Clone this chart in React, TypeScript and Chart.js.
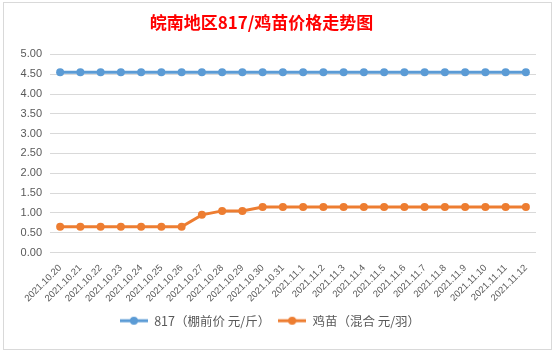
import React, { useEffect, useRef } from "react";
import { Chart, registerables } from "chart.js";

Chart.register(...registerables);

const categories = [
  "2021.10.20", "2021.10.21", "2021.10.22", "2021.10.23", "2021.10.24", "2021.10.25",
  "2021.10.26", "2021.10.27", "2021.10.28", "2021.10.29", "2021.10.30", "2021.10.31",
  "2021.11.1", "2021.11.2", "2021.11.3", "2021.11.4", "2021.11.5", "2021.11.6",
  "2021.11.7", "2021.11.8", "2021.11.9", "2021.11.10", "2021.11.11", "2021.11.12",
];
const price817 = [
  4.55, 4.55, 4.55, 4.55, 4.55, 4.55, 4.55, 4.55, 4.55, 4.55, 4.55, 4.55,
  4.55, 4.55, 4.55, 4.55, 4.55, 4.55, 4.55, 4.55, 4.55, 4.55, 4.55, 4.55,
];
const chickPrice = [
  0.65, 0.65, 0.65, 0.65, 0.65, 0.65, 0.65, 0.95, 1.05, 1.05, 1.15, 1.15,
  1.15, 1.15, 1.15, 1.15, 1.15, 1.15, 1.15, 1.15, 1.15, 1.15, 1.15, 1.15,
];
const seriesNames = ["817（棚前价 元/斤）", "鸡苗（混合 元/羽）"];
const titleText = "皖南地区817/鸡苗价格走势图";

const BLUE = "#5B9BD5";
const ORANGE = "#ED7D31";
const FONT = "'Noto Sans CJK SC', 'Noto Sans', sans-serif";

function legendIcon(color: string) {
  const c = document.createElement("canvas");
  c.width = 28;
  c.height = 10;
  const ctx = c.getContext("2d")!;
  ctx.strokeStyle = color;
  ctx.lineWidth = 3;
  ctx.beginPath();
  ctx.moveTo(0, 5);
  ctx.lineTo(28, 5);
  ctx.stroke();
  ctx.fillStyle = color;
  ctx.beginPath();
  ctx.arc(14, 5, 4, 0, Math.PI * 2);
  ctx.fill();
  return c;
}

// draws the title slightly left of centre, as in the Excel original
const titlePlugin = {
  id: "offsetTitle",
  afterDraw(chart: any) {
    const t = chart.titleBlock;
    if (!t) return;
    const ctx = chart.ctx;
    ctx.save();
    ctx.fillStyle = "#FF0000";
    ctx.font = `bold 17px ${FONT}`;
    ctx.textAlign = "center";
    ctx.textBaseline = "middle";
    ctx.fillText(titleText, chart.width / 2 - 16, t.top + 2 + 10);
    ctx.restore();
  },
};

export default function App() {
  const ref = useRef<HTMLCanvasElement>(null);
  useEffect(() => {
    const chart = new Chart(ref.current!, {
      type: "line",
      plugins: [titlePlugin],
      data: {
        labels: categories,
        datasets: [
          {
            label: seriesNames[0],
            data: price817,
            borderColor: BLUE,
            backgroundColor: BLUE,
            borderWidth: 3,
            pointRadius: 4,
            pointBackgroundColor: BLUE,
            pointBorderWidth: 0,
            pointStyle: "circle",
          },
          {
            label: seriesNames[1],
            data: chickPrice,
            borderColor: ORANGE,
            backgroundColor: ORANGE,
            borderWidth: 3,
            pointRadius: 4,
            pointBackgroundColor: ORANGE,
            pointBorderWidth: 0,
            pointStyle: "circle",
          },
        ],
      },
      options: {
        animation: false,
        responsive: false,
        maintainAspectRatio: false,
        layout: { padding: { left: 0, right: 15, top: 8, bottom: 12 } },
        plugins: {
          title: {
            display: true,
            text: titleText,
            color: "rgba(0,0,0,0)",
            font: { family: FONT, size: 17, weight: "bold" },
            padding: { top: 2, bottom: 21 },
          },
          legend: {
            position: "bottom",
            labels: {
              color: "#595959",
              font: { family: FONT, size: 12.5 },
              usePointStyle: true,
              boxHeight: 10,
              pointStyleWidth: 28,
              padding: 8,
              generateLabels: (ch: any) =>
                ch.data.datasets.map((d: any, i: number) => ({
                  text: d.label,
                  fillStyle: d.borderColor,
                  strokeStyle: d.borderColor,
                  fontColor: "#595959",
                  pointStyle: legendIcon(d.borderColor),
                  datasetIndex: i,
                  hidden: false,
                  lineWidth: 0,
                })),
            },
          },
          tooltip: { enabled: false },
        },
        scales: {
          x: {
            offset: true,
            grid: { display: false, drawTicks: false },
            border: { display: false },
            ticks: {
              color: "#595959",
              font: { family: "'Liberation Sans', sans-serif", size: 9.5 },
              minRotation: 45,
              maxRotation: 45,
              autoSkip: false,
              padding: 10,
            },
            afterFit: (s: any) => {
              s.height = 54;
            },
          },
          y: {
            min: 0,
            max: 5,
            grid: { color: "#D9D9D9", drawTicks: false },
            border: { display: false },
            ticks: {
              stepSize: 0.5,
              color: "#595959",
              font: { family: "'Liberation Sans', sans-serif", size: 11 },
              padding: 8,
              callback: (v: any) => Number(v).toFixed(2),
            },
            afterFit: (s: any) => {
              s.width = 46;
            },
          },
        },
      },
    });
    return () => chart.destroy();
  }, []);
  return (
    <div
      style={{
        position: "fixed",
        left: 0,
        top: 0,
        width: 553,
        height: 351,
        background: "#fff",
      }}
    >
      <div
        style={{
          position: "absolute",
          left: 3,
          top: 2,
          width: 547,
          height: 346,
          border: "1px solid #D9D9D9",
          background: "#fff",
        }}
      >
        <canvas ref={ref} width={547} height={346} style={{ display: "block" }} />
      </div>
    </div>
  );
}
